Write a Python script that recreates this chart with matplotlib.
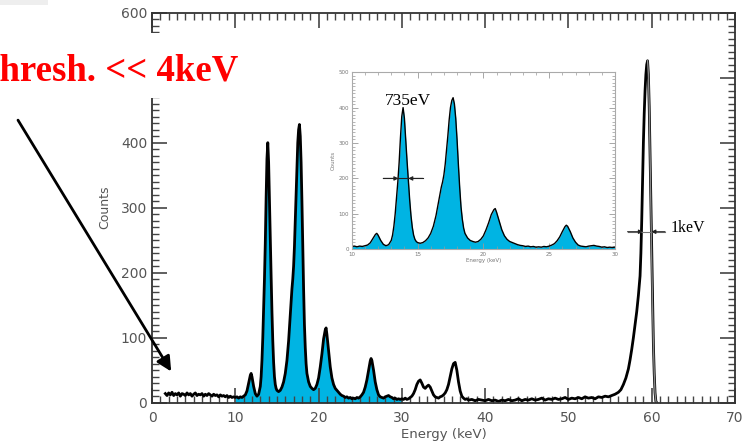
import numpy as np
import matplotlib.pyplot as plt
from matplotlib.patches import Rectangle
from matplotlib.ticker import MultipleLocator, FuncFormatter

# Am-241 spectrum, bin energy (keV) and counts per bin
energy = [
    1.6, 1.8, 2.0, 2.2, 2.4, 2.6, 2.8, 3.0, 3.2, 3.4, 3.6, 3.8, 4.0, 4.2, 4.4,
    4.6, 4.8, 5.0, 5.2, 5.4, 5.6, 5.8, 6.0, 6.2, 6.4, 6.6, 6.8, 7.0, 7.2, 7.4,
    7.6, 7.8, 8.0, 8.2, 8.4, 8.6, 8.8, 9.0, 9.2, 9.4, 9.6, 9.8, 10.0,
    10.2, 10.4, 10.6, 10.8, 11.0, 11.2, 11.4, 11.6, 11.8, 11.9, 12.0, 12.2,
    12.4, 12.6, 12.8, 13.0, 13.1, 13.2, 13.3, 13.4, 13.5, 13.6, 13.7, 13.8,
    13.9, 14.0, 14.1, 14.2, 14.3, 14.4, 14.5, 14.6, 14.7, 14.8, 14.9, 15.0,
    15.2, 15.4, 15.6, 15.8, 16.0, 16.2, 16.4, 16.6, 16.8, 16.9, 17.0, 17.1,
    17.2, 17.3, 17.4, 17.5, 17.6, 17.7, 17.8, 17.9, 18.0, 18.1, 18.2, 18.3,
    18.4, 18.5, 18.6, 18.8, 19.0, 19.2, 19.4, 19.6, 19.8, 20.0, 20.2, 20.4,
    20.6, 20.8, 20.9, 21.0, 21.2, 21.4, 21.6, 21.8, 22.0, 22.2, 22.4, 22.6,
    22.8, 23.0, 23.2, 23.4, 23.6, 23.8, 24.0, 24.2, 24.4, 24.6, 24.8, 25.0,
    25.2, 25.4, 25.6, 25.8, 26.0, 26.2, 26.3, 26.4, 26.6, 26.8, 27.0, 27.2,
    27.4, 27.6, 27.8, 28.0, 28.2, 28.4, 28.6, 28.8, 29.0, 29.2, 29.4, 29.6,
    29.8, 30.0,
    30.2, 30.4, 30.6, 30.8, 31.0, 31.2, 31.4, 31.6, 31.8, 32.0, 32.2, 32.4,
    32.6, 32.8, 33.0, 33.2, 33.4, 33.6, 33.8, 34.0, 34.2, 34.4, 34.6, 34.8,
    35.0, 35.2, 35.4, 35.6, 35.8, 36.0, 36.2, 36.4, 36.6, 36.8, 37.0, 37.2,
    37.4, 37.6, 37.8, 38.0, 38.4, 38.8, 39.2, 39.6, 40.0, 40.4, 40.8, 41.2,
    41.6, 42.0, 42.4, 42.8, 43.2, 43.6, 44.0, 44.4, 44.8, 45.2, 45.6, 46.0,
    46.4, 46.8, 47.2, 47.6, 48.0, 48.4, 48.8, 49.2, 49.6, 50.0, 50.4, 50.8,
    51.2, 51.6, 52.0, 52.4, 52.8, 53.2, 53.6, 54.0, 54.4, 54.8, 55.2, 55.6,
    56.0, 56.3, 56.6, 56.9, 57.2, 57.4, 57.6, 57.8, 58.0, 58.2, 58.4, 58.6,
    58.7, 58.8, 58.9, 59.0, 59.1, 59.2, 59.3, 59.4, 59.5, 59.6, 59.7, 59.8,
    59.9, 60.0, 60.1, 60.2, 60.3, 60.4, 60.5, 60.6,
]
counts = [
    14, 11, 15, 12, 16, 11, 14, 12, 15, 10, 14, 13, 11, 15, 12,
    14, 10, 13, 15, 11, 13, 12, 14, 10, 13, 11, 14, 12, 10, 13,
    11, 12, 9, 12, 10, 11, 9, 11, 8, 10, 8, 9, 8,
    9, 7, 9, 8, 10, 12, 18, 30, 42, 45, 40, 25,
    14, 10, 13, 25, 40, 65, 100, 145, 190, 245, 315, 375,
    400, 370, 310, 250, 195, 140, 95, 62, 40, 28, 22, 19,
    17, 19, 24, 32, 45, 65, 95, 135, 175, 190, 210, 240,
    280, 320, 365, 400, 420, 428, 410, 370, 310, 240, 175, 120,
    85, 60, 45, 32, 25, 22, 20, 22, 28, 38, 55, 75,
    98, 112, 115, 105, 80, 55, 38, 28, 22, 19, 16, 13,
    11, 10, 8, 9, 7, 8, 6, 7, 6, 8, 7, 9,
    12, 16, 24, 35, 50, 64, 68, 65, 50, 32, 20, 12,
    9, 8, 7, 9, 10, 11, 9, 8, 6, 7, 5, 6,
    5, 6,
    5, 7, 5, 6, 8, 10, 14, 20, 28, 33, 35, 30,
    24, 22, 25, 27, 24, 18, 12, 9, 8, 7, 9, 10,
    12, 15, 20, 28, 40, 52, 60, 62, 50, 32, 18, 10,
    7, 5, 6, 4, 5, 3, 5, 4, 3, 5, 3, 4,
    2, 4, 3, 5, 3, 4, 6, 3, 5, 4, 6, 4,
    5, 7, 4, 6, 5, 7, 5, 6, 8, 5, 7, 6,
    8, 6, 9, 7, 8, 6, 9, 8, 10, 9, 11, 13,
    16, 20, 28, 38, 52, 66, 82, 100, 120, 140, 165, 195,
    230, 280, 340, 400, 445, 480, 505, 520, 526, 505, 455, 380,
    300, 220, 150, 90, 45, 15, 2, 0,
]

# inset window and FWHM markers: (left edge, right edge, height, bar start, bar end)
inset_range = (10, 30)
fwhm_low = (13.55, 14.29, 200, 12.4, 15.4)      # 735 eV
fwhm_high = (58.95, 59.95, 263, 57.1, 61.6)     # 1 keV

E = np.array(energy)
C = np.array(counts)
cyan = '#00b4e3'


def fwhm_bar(axis, spec, color, lw):
    xl, xr, yh, x0, x1 = spec
    axis.plot([x0, x1], [yh, yh], color=color, lw=lw)
    for start, edge in ((x0, xl), (x1, xr)):
        axis.annotate('', xy=(edge, yh), xytext=(start, yh),
                      arrowprops=dict(arrowstyle='-|>', color='#222222',
                                      lw=lw, mutation_scale=6,
                                      shrinkA=0, shrinkB=0))


fig = plt.figure(figsize=(7.5, 4.45), dpi=100)
ax = fig.add_axes([0.2027, 0.0951, 0.7773, 0.8764])

band = (E >= inset_range[0]) & (E <= inset_range[1])
ax.fill_between(E, C, where=band, color=cyan, lw=0)
ax.plot(E, C, color='black', lw=2.0)
ax.plot(E[E >= 59.5], C[E >= 59.5], color='#888888', lw=1.0)

ax.set_xlim(0, 70)
ax.set_ylim(0, 600)
ax.xaxis.set_major_locator(MultipleLocator(10))
ax.xaxis.set_minor_locator(MultipleLocator(1))
ax.yaxis.set_major_locator(MultipleLocator(100))
ax.yaxis.set_minor_locator(MultipleLocator(10))
# the 500 label sits under the threshold note
ax.yaxis.set_major_formatter(FuncFormatter(lambda v, p: '' if v == 500 else f'{v:.0f}'))
ax.tick_params(which='both', direction='in', top=True, right=True,
               color='#444444', labelcolor='#555555', labelsize=10)
ax.tick_params(which='major', length=11, width=1.2)
ax.tick_params(which='minor', length=5, width=1.0)
ax.tick_params(axis='x', pad=6)
for s in ax.spines.values():
    s.set_color('#333333')
    s.set_linewidth(1.3)
ax.set_xlabel('Energy (keV)', fontsize=9.5, color='#555555', labelpad=2)
ax.set_ylabel('Counts', fontsize=9, color='#555555', labelpad=7)

fwhm_bar(ax, fwhm_high, '#777777', 0.8)
ax.text(62.3, fwhm_high[2] + 6, '1keV', family='Liberation Serif',
        fontsize=11.5, va='center', ha='left')

# zoomed view of the L lines
ins = fig.add_axes([0.469, 0.4398, 0.351, 0.398])
ins.fill_between(E[band], C[band], color=cyan, lw=0)
ins.plot(E[band], C[band], color='black', lw=1.0)
ins.set_xlim(*inset_range)
ins.set_ylim(0, 500)
ins.xaxis.set_major_locator(MultipleLocator(5))
ins.xaxis.set_minor_locator(MultipleLocator(1))
ins.yaxis.set_major_locator(MultipleLocator(100))
ins.yaxis.set_minor_locator(MultipleLocator(10))
ins.tick_params(which='both', direction='in', top=True, right=True,
                color='#999999', labelcolor='#777777', labelsize=4, pad=2)
ins.tick_params(which='major', length=4, width=0.6)
ins.tick_params(which='minor', length=2, width=0.5)
for s in ins.spines.values():
    s.set_color('#aaaaaa')
    s.set_linewidth(0.8)
ins.set_xlabel('Energy (keV)', fontsize=4, color='#777777', labelpad=1)
ins.set_ylabel('Counts', fontsize=4, color='#777777', labelpad=2)

fwhm_bar(ins, fwhm_low, '#222222', 0.8)
ins.text(14.25, 418, '735eV', family='Liberation Serif', fontsize=12.5,
         ha='center', va='center')

# white patch under the threshold note, hides part of the left axis
fig.add_artist(Rectangle((0, 1 - 98 / 445), 250 / 750, 65 / 445,
                         transform=fig.transFigure, facecolor='white',
                         edgecolor='none', zorder=2))
fig.add_artist(Rectangle((0, 1 - 5 / 445), 48 / 750, 5 / 445,
                         transform=fig.transFigure, facecolor='#eeeeee',
                         edgecolor='none', zorder=2))
fig.text(-0.033, 0.820, 'Thresh. << 4keV', family='Liberation Serif',
         fontweight='bold', fontsize=26.5, color='red', va='baseline',
         ha='left', zorder=3)

ax.annotate('', xy=(2.3, 48), xycoords='data',
            xytext=(0.024, 0.730), textcoords='figure fraction',
            arrowprops=dict(arrowstyle='-|>', color='black', lw=2,
                            mutation_scale=22, shrinkA=0, shrinkB=0),
            annotation_clip=False)

fig.savefig('out.png', dpi=100)
